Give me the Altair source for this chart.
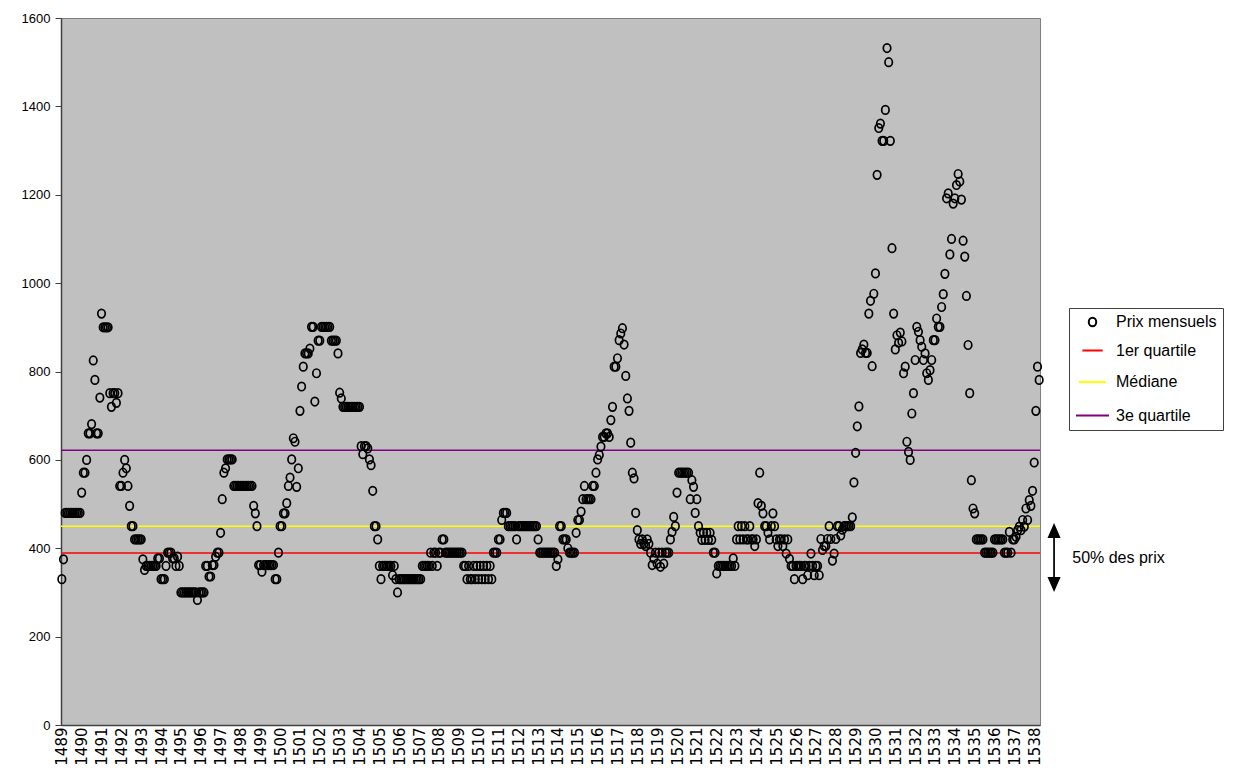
import altair as alt
import pandas as pd

FIRST_YEAR = 1489

# Monthly prices, one row per year (12 months)
prix_1489_1498 = [
    330, 375, 480, 480, 480, 480, 480, 480, 480, 480, 480, 480,
    526, 571, 571, 600, 660, 660, 681, 825, 781, 660, 660, 741,
    931, 900, 900, 900, 900, 751, 720, 751, 751, 729, 751, 541,
    541, 571, 600, 581, 541, 496, 450, 450, 420, 420, 420, 420,
    420, 375, 351, 360, 360, 360, 360, 360, 360, 360, 377, 377,
    330, 330, 330, 360, 390, 390, 390, 377, 377, 360, 381, 360,
    300, 300, 300, 300, 300, 300, 300, 300, 300, 300, 283, 300,
    300, 300, 300, 360, 360, 336, 336, 362, 362, 381, 390, 390,
    435, 511, 571, 581, 601, 601, 601, 601, 541, 541, 541, 541,
    541, 541, 541, 541, 541, 541, 541, 541, 496, 479, 450, 362,
]
prix_1499_1508 = [
    362, 347, 362, 362, 362, 362, 362, 362, 362, 330, 330, 390,
    450, 450, 479, 479, 502, 541, 560, 601, 649, 641, 539, 581,
    711, 766, 811, 841, 841, 841, 852, 901, 901, 732, 796, 870,
    870, 901, 901, 901, 901, 901, 901, 870, 870, 870, 870, 841,
    752, 739, 720, 720, 720, 720, 720, 720, 720, 720, 720, 720,
    720, 631, 613, 631, 631, 626, 601, 588, 530, 450, 450, 420,
    360, 330, 360, 360, 360, 360, 360, 360, 339, 360, 330, 300,
    330, 330, 330, 330, 330, 330, 330, 330, 330, 330, 330, 330,
    330, 330, 360, 360, 360, 360, 360, 390, 360, 390, 390, 360,
    390, 390, 420, 420, 390, 390, 390, 390, 390, 390, 390, 390,
]
prix_1509_1518 = [
    390, 390, 390, 360, 360, 330, 360, 330, 330, 360, 330, 360,
    330, 360, 330, 360, 330, 360, 330, 360, 330, 390, 390, 390,
    420, 420, 464, 480, 480, 480, 450, 450, 450, 450, 450, 420,
    450, 450, 450, 450, 450, 450, 450, 450, 450, 450, 450, 450,
    420, 390, 390, 390, 390, 390, 390, 390, 390, 390, 390, 360,
    375, 450, 450, 420, 420, 420, 400, 390, 390, 390, 390, 435,
    464, 464, 483, 511, 541, 511, 511, 511, 511, 541, 541, 571,
    601, 611, 630, 652, 652, 660, 660, 652, 690, 720, 811, 811,
    830, 871, 886, 898, 861, 790, 739, 711, 639, 571, 558, 480,
    441, 420, 410, 420, 410, 405, 420, 410, 390, 362, 377, 390,
]
prix_1519_1528 = [
    365, 390, 358, 390, 365, 390, 390, 390, 420, 437, 471, 450,
    526, 571, 571, 571, 571, 571, 571, 571, 511, 554, 539, 480,
    511, 450, 435, 419, 435, 419, 435, 419, 435, 419, 390, 390,
    343, 360, 360, 360, 360, 360, 360, 360, 360, 360, 377, 360,
    420, 450, 420, 450, 420, 450, 420, 420, 450, 420, 420, 405,
    420, 502, 571, 496, 479, 450, 450, 435, 420, 450, 479, 450,
    420, 405, 420, 420, 405, 420, 388, 420, 376, 360, 360, 330,
    360, 360, 360, 360, 330, 360, 360, 339, 360, 388, 360, 339,
    360, 360, 339, 421, 396, 405, 405, 421, 450, 421, 372, 388,
    421, 450, 450, 429, 442, 450, 450, 450, 450, 450, 470, 549,
]
prix_1529_1538 = [
    616, 676, 721, 842, 850, 861, 842, 842, 931, 960, 812, 976,
    1022, 1245, 1351, 1361, 1322, 1322, 1392, 1532, 1500, 1322, 1079, 931,
    850, 882, 865, 888, 868, 796, 811, 641, 618, 600, 705, 751,
    826, 901, 890, 871, 856, 826, 841, 796, 781, 803, 826, 871,
    871, 920, 901, 901, 946, 975, 1021, 1192, 1203, 1065, 1100, 1180,
    1192, 1222, 1247, 1230, 1189, 1096, 1060, 971, 860, 751, 554, 490,
    479, 420, 420, 420, 420, 420, 390, 390, 390, 390, 390, 390,
    420, 420, 420, 420, 420, 420, 390, 390, 390, 437, 390, 420,
    420, 426, 441, 449, 441, 464, 449, 490, 464, 509, 496, 530,
    594, 711, 811, 781,
]

# Reference lines
series_names = ["Prix mensuels", "1er quartile", "Médiane", "3e quartile"]
quartile_names = ["1er quartile", "Médiane", "3e quartile"]
quartile_values = [389, 450, 622]
series_colors = ["#000000", "#FF0000", "#FFFF00", "#800080"]
ellipse = "M0,-1 A0.88,1 0 1,1 0,1 A0.88,1 0 1,1 0,-1 Z"
hline = "M-1,0 L1,0"
series_shapes = [ellipse, hline, hline, hline]
series_sizes = [72, 1089, 1089, 1089]

# Annotation
annot_text = "50% des prix"
annot_value = 379
annot_arrow_month = 600
annot_text_month = 611

prices = prix_1489_1498 + prix_1499_1508 + prix_1509_1518 + prix_1519_1528 + prix_1529_1538
n = len(prices)

df = pd.DataFrame({"mois": list(range(n)), "prix": prices, "serie": ["Prix mensuels"] * n})
df_q = pd.DataFrame({"serie": quartile_names, "valeur": quartile_values})
df_a = pd.DataFrame({"mois": [annot_arrow_month], "mois_t": [annot_text_month],
                     "v": [annot_value], "t": [annot_text]})

xscale = alt.Scale(domain=[-0.5, n - 0.5], nice=False, zero=False)
yscale = alt.Scale(domain=[0, 1600], nice=False, zero=True)

legend = alt.Legend(
    title=None, orient="none", legendX=1008, legendY=290,
    labelFont="Liberation Sans", labelFontSize=16, labelColor="#000000",
    padding=6, fillColor="#FFFFFF", strokeColor="#404040",
    symbolStrokeWidth=2, labelOffset=6, rowPadding=8,
)

color = alt.Color("serie:N", scale=alt.Scale(domain=series_names, range=series_colors), legend=legend)
shape = alt.Shape("serie:N", scale=alt.Scale(domain=series_names, range=series_shapes), legend=legend)
size = alt.Size("serie:N", scale=alt.Scale(domain=series_names, range=series_sizes), legend=legend)

xaxis = alt.Axis(
    values=list(range(0, n, 12)),
    labelExpr=f"{FIRST_YEAR} + floor(datum.value / 12)",
    labelAngle=-90, labelFont="DejaVu Sans", labelFontSize=15, labelColor="#000000",
    ticks=False, grid=False, title=None, labelPadding=2,
    domainColor="#404040", domainWidth=1.5, labelOverlap=False, labelFlush=False,
    labelBound=False,
)
yaxis = alt.Axis(
    values=list(range(0, 1601, 200)), format="d", labelFont="Liberation Sans", labelFontSize=13,
    labelColor="#000000", tickSize=6, tickColor="#404040", domainColor="#404040",
    domainWidth=1.5, grid=False, title=None, labelPadding=5,
)

X = lambda f: alt.X(f, scale=xscale, axis=xaxis)
Y = lambda f: alt.Y(f, scale=yscale, axis=yaxis)

rules = alt.Chart(df_q).mark_rule(strokeWidth=1.5).encode(
    y=Y("valeur:Q"),
    color=color,
)

points = alt.Chart(df).mark_point(filled=False, strokeWidth=1.7, opacity=1).encode(
    x=X("mois:Q"), y=Y("prix:Q"),
    color=color, shape=shape, size=size,
)

arrow_path = ("M0,-1 L0.19,-0.565 L0.025,-0.565 L0.025,0.565 L0.19,0.565 L0,1 "
              "L-0.19,0.565 L-0.025,0.565 L-0.025,-0.565 L-0.19,-0.565 Z")
arrow = alt.Chart(df_a).mark_point(shape=arrow_path, filled=True, size=4761,
                                   color="#000000", opacity=1, strokeWidth=0).encode(
    x=X("mois:Q"), y=Y("v:Q"),
)
label = alt.Chart(df_a).mark_text(align="left", baseline="middle", font="Liberation Sans",
                                  fontSize=16, color="#000000").encode(
    x=X("mois_t:Q"), y=Y("v:Q"), text="t:N",
)

chart = alt.layer(rules, points, arrow, label).properties(
    width=979, height=707,
    autosize=alt.AutoSizeParams(type="none"),
    padding={"left": 53, "top": 10, "right": 185, "bottom": 42},
    background="#FFFFFF",
).configure_view(fill="#C0C0C0", stroke="#808080", strokeWidth=1)

chart.save("out.html", embed_options={"renderer": "svg", "actions": False})
